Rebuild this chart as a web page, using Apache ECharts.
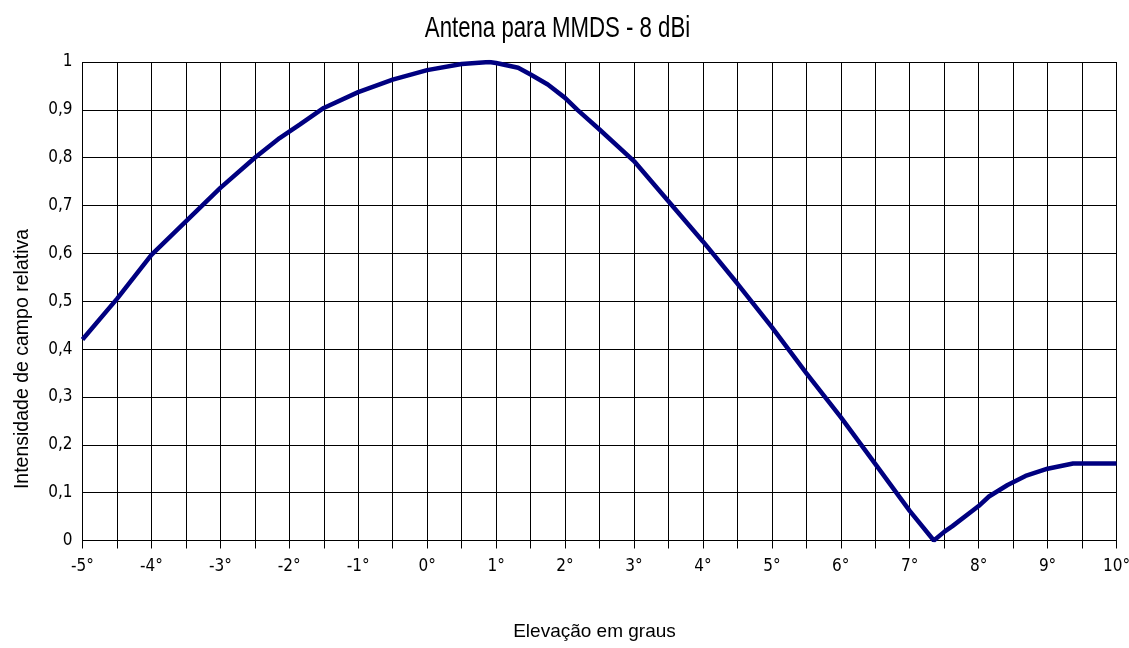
<!DOCTYPE html>
<html>
<head>
<meta charset="utf-8">
<script src="https://cdn.jsdelivr.net/npm/echarts@6/dist/echarts.min.js"></script>
<style>html,body{margin:0;padding:0;background:#fff;}#c{width:1129px;height:648px;}</style>
</head>
<body>
<div id="c"></div>
<script>
var elevation = [-5, -4.5, -4, -3.5, -3, -2.5, -2.14, -1.85, -1.5, -1, -0.5, 0, 0.5, 0.9, 1.0, 1.32, 1.5, 1.75, 2.0, 2.18, 2.5, 3.0, 3.5, 4.0, 4.5, 5.0, 5.5, 6.0, 6.5, 7.0, 7.35, 7.5, 7.62, 8.0, 8.15, 8.42, 8.68, 9.0, 9.37, 10];
var intensity = [0.42, 0.505, 0.597, 0.667, 0.737, 0.800, 0.841, 0.869, 0.904, 0.937, 0.963, 0.983, 0.996, 1.0, 0.998, 0.988, 0.974, 0.953, 0.925, 0.900, 0.859, 0.793, 0.709, 0.625, 0.537, 0.446, 0.350, 0.258, 0.160, 0.062, 0.0, 0.018, 0.030, 0.072, 0.092, 0.116, 0.135, 0.150, 0.161, 0.161];
var titleText = 'Antena para MMDS - 8 dBi';
var xName = 'Elevação em graus';
var yName = 'Intensidade de campo relativa';

var sans = '"Liberation Sans", Arial, sans-serif';
var cond = '"DejaVu Sans Condensed", "DejaVu Sans", sans-serif';

var points = elevation.map(function (x, i) { return [x, intensity[i]]; });

var chart = echarts.init(document.getElementById('c'));
chart.setOption({
  animation: false,
  backgroundColor: '#fff',
  grid: { left: 82.5, right: 12.5, top: 62, bottom: 107.5, containLabel: false, outerBoundsMode: 'none' },
  xAxis: {
    type: 'value',
    min: -5, max: 10, interval: 0.5,
    axisLine: { show: true, onZero: false, lineStyle: { color: '#000', width: 1 } },
    axisTick: { show: true, length: 8, lineStyle: { color: '#000' } },
    axisLabel: {
      fontFamily: cond, fontSize: 17, color: '#000', margin: 18,
      formatter: function (v) { return Math.abs(v % 1) < 1e-9 ? v + '°' : ''; }
    },
    splitLine: { show: true, lineStyle: { color: '#000', width: 1 } }
  },
  yAxis: {
    type: 'value',
    min: 0, max: 1, interval: 0.1,
    axisLine: { show: true, lineStyle: { color: '#000', width: 1 } },
    axisTick: { show: true, length: 5, lineStyle: { color: '#000' } },
    axisLabel: {
      fontFamily: cond, fontSize: 17, color: '#000', margin: 10,
      formatter: function (v) { return (Math.round(v * 10) / 10).toString().replace('.', ','); }
    },
    splitLine: { show: true, lineStyle: { color: '#000', width: 1 } }
  },
  graphic: [{
    type: 'text',
    x: 557.5, y: 28.5,
    scaleX: 0.74,
    style: {
      text: titleText,
      fontFamily: sans, fontSize: 30, fill: '#000',
      align: 'center', verticalAlign: 'middle'
    }
  }, {
    type: 'text',
    x: 594.5, y: 631.5,
    style: {
      text: xName,
      fontFamily: sans, fontSize: 19, fill: '#000',
      align: 'center', verticalAlign: 'middle'
    }
  }, {
    type: 'text',
    x: 23, y: 359,
    rotation: Math.PI / 2,
    style: {
      text: yName,
      fontFamily: sans, fontSize: 19.5, fill: '#000',
      align: 'center', verticalAlign: 'middle'
    }
  }],
  series: [{
    type: 'line',
    data: points,
    showSymbol: false,
    smooth: false,
    lineStyle: { color: '#000080', width: 4.5 },
    itemStyle: { color: '#000080' }
  }]
});
</script>
</body>
</html>
